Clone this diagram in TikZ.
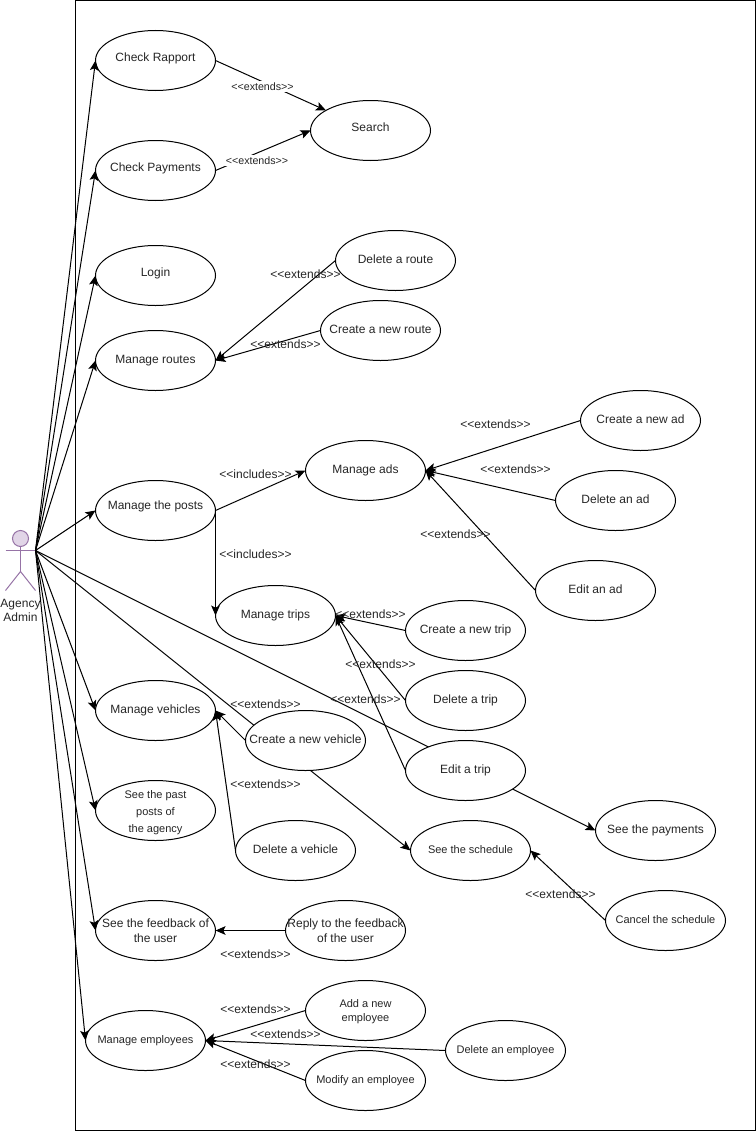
\documentclass[tikz,border=0pt]{standalone}
\usepackage{fontspec}
\setmainfont[Ligatures=TeXOff]{Liberation Sans}
\usetikzlibrary{arrows.meta,shapes.geometric}
\definecolor{actorstroke}{HTML}{9673A6}
\definecolor{actorfill}{HTML}{E1D5E7}
\definecolor{labeltext}{HTML}{262626}
\tikzset{
  x=0.75pt,y=-0.75pt,
  usecasebase/.style={draw=black,fill=white,ellipse,minimum width=90pt,minimum height=45pt,inner sep=-40pt,outer sep=0pt,line width=0.75pt,align=center,font=\fontsize{9}{11.2}\selectfont,text=labeltext},
  usecase/.style={usecasebase,text height=7pt,text depth=2pt},
  upthree/.style={usecasebase,text height=7pt,text depth=5pt},
  upsix/.style={usecasebase,text height=7pt,text depth=9pt},
  smallcase/.style={usecasebase,font=\fontsize{8.25}{10.5}\selectfont,text height=6.5pt,text depth=1.8pt},
  twolines/.style={usecasebase},
  smalltwo/.style={usecasebase,font=\fontsize{8.25}{10.5}\selectfont},
  threelines/.style={usecasebase,font=\fontsize{8.25}{13}\selectfont},
  conn/.style={draw=black,line width=0.75pt,-{Stealth[length=7.5pt,width=6.5pt,inset=1.6pt]}},
  rel/.style={font=\fontsize{9}{10.5}\selectfont,inner sep=0pt,text=labeltext},
  relsmall/.style={font=\fontsize{8}{9}\selectfont,fill=white,inner sep=1pt,text=labeltext},
  actorline/.style={draw=actorstroke,line width=0.75pt},
}
\begin{document}
\begin{tikzpicture}
\useasboundingbox (-0.5,-0.5) rectangle (755.5,1130.5);
\fill[white] (-0.5,-0.5) rectangle (755.5,1130.5);
\node[draw=black,line width=0.75pt,minimum width=510pt,minimum height=847.5pt,inner sep=0pt,outer sep=0pt] (frame) at (415,565) {};
% actor
\coordinate (actor) at (35,550);
\coordinate (hip) at (20,571);
\coordinate (handl) at (5,550);
\coordinate (footl) at (5,590);
\coordinate (footr) at (35,590);
\node[circle,draw=actorstroke,fill=actorfill,line width=0.75pt,minimum size=12pt,inner sep=0pt] (head) at (20,538) {};
\draw[actorline] (head.south) -- (hip);
\draw[actorline] (handl) -- (actor);
\draw[actorline] (footl) -- (hip) -- (footr);
\node[font=\fontsize{9}{10.5}\selectfont,align=center,inner sep=0pt,text=labeltext] (actorlabel) at (20,610) {Agency\\Admin};
% two connectors pass behind other use cases, so they come first
\coordinate (schedwest) at (410,850);
\coordinate (paywest) at (595,830);
\draw[conn] (actor) -- (schedwest);
\draw[conn] (actor) -- (paywest);
\node[upthree] (rapport) at (155,60) {Check Rapport};
\node[upthree] (search) at (370,130) {Search};
\node[upthree] (payments) at (155,170) {Check Payments};
\node[upthree] (login) at (155,275) {Login};
\node[usecase] (delroute) at (395,260) {Delete a route};
\node[usecase] (newroute) at (380,330) {Create a new route};
\node[usecase] (routes) at (155,360) {Manage routes};
\node[usecase] (newad) at (640,420) {Create a new ad};
\node[usecase] (ads) at (365,470) {Manage ads};
\node[usecase] (delad) at (615,500) {Delete an ad};
\node[usecase] (editad) at (595,590) {Edit an ad};
\node[upsix] (posts) at (155,510) {Manage the posts};
\node[usecase] (trips) at (275,615) {Manage trips};
\node[usecase] (newtrip) at (465,630) {Create a new trip};
\node[usecase] (deltrip) at (465,700) {Delete a trip};
\node[usecase] (edittrip) at (465,770) {Edit a trip};
\node[usecase] (vehicles) at (155,710) {Manage vehicles};
\node[usecase] (newveh) at (305,740) {Create a new vehicle};
\node[threelines] (past) at (155,810) {\rule{0pt}{9pt}See the past\\posts of\\the agency};
\node[usecase] (delveh) at (295,850) {Delete a vehicle};
\node[smallcase] (sched) at (470,850) {See the schedule};
\node[usecase] (pay) at (655,830) {See the payments};
\node[smallcase] (cancel) at (665,920) {Cancel the schedule};
\node[twolines] (feedback) at (155,930) {See the feedback of\\the user};
\node[twolines] (reply) at (345,930) {Reply to the feedback\\of the user};
\node[smalltwo] (addemp) at (365,1010) {\rule{0pt}{7.5pt}Add a new\\employee};
\node[smallcase] (delemp) at (505,1050) {Delete an employee};
\node[smallcase] (modemp) at (365,1080) {Modify an employee};
\node[smallcase] (emps) at (145,1040) {Manage employees};
% actor connectors
\foreach \t in {rapport,payments,login,routes,posts,vehicles,past,feedback,emps}
  \draw[conn] (actor) -- (\t.west);
% relations
\draw[conn] (rapport.east) -- (search);
\draw[conn] (payments.east) -- (search.west);
\draw[conn] (delroute.west) -- (routes.east);
\draw[conn] (newroute.west) -- (routes.east);
\draw[conn] (posts.east) -- (ads.west);
\draw[conn] (posts.east) -- (posts.east |- trips.west);
\draw[conn] (newad.west) -- (ads.east);
\draw[conn] (delad.west) -- (ads.east);
\draw[conn] (editad.west) -- (ads.east);
\draw[conn] (newtrip.west) -- (trips.east);
\draw[conn] (deltrip.west) -- (trips.east);
\draw[conn] (edittrip.west) -- (trips.east);
\draw[conn] (newveh.west) -- (vehicles.east);
\draw[conn] (delveh.west) -- (vehicles.east);
\draw[conn] (cancel.west) -- (sched.east);
\draw[conn] (reply.west) -- (feedback.east);
\draw[conn] (addemp.west) -- (emps.east);
\draw[conn] (delemp.west) -- (emps.east);
\draw[conn] (modemp.west) -- (emps.east);
% labels
\node[relsmall] (l1) at (262,86) {<<extends>>};
\node[relsmall] (l2) at (256.5,160) {<<extends>>};
\node[rel] (l3) at (305,274) {<<extends>>};
\node[rel] (l4) at (285,344) {<<extends>>};
\node[rel] (l5) at (255,474) {<<includes>>};
\node[rel] (l6) at (255,554) {<<includes>>};
\node[rel] (l7) at (495,424) {<<extends>>};
\node[rel] (l8) at (515,469) {<<extends>>};
\node[rel] (l9) at (455,534) {<<extends>>};
\node[rel] (l10) at (370,614) {<<extends>>};
\node[rel] (l11) at (380,664) {<<extends>>};
\node[rel] (l12) at (365,699) {<<extends>>};
\node[rel] (l13) at (265,704) {<<extends>>};
\node[rel] (l14) at (265,784) {<<extends>>};
\node[rel] (l15) at (560,894) {<<extends>>};
\node[rel] (l16) at (255,954) {<<extends>>};
\node[rel] (l17) at (255,1009) {<<extends>>};
\node[rel] (l18) at (285,1034) {<<extends>>};
\node[rel] (l19) at (255,1064) {<<extends>>};
\end{tikzpicture}
\end{document}
